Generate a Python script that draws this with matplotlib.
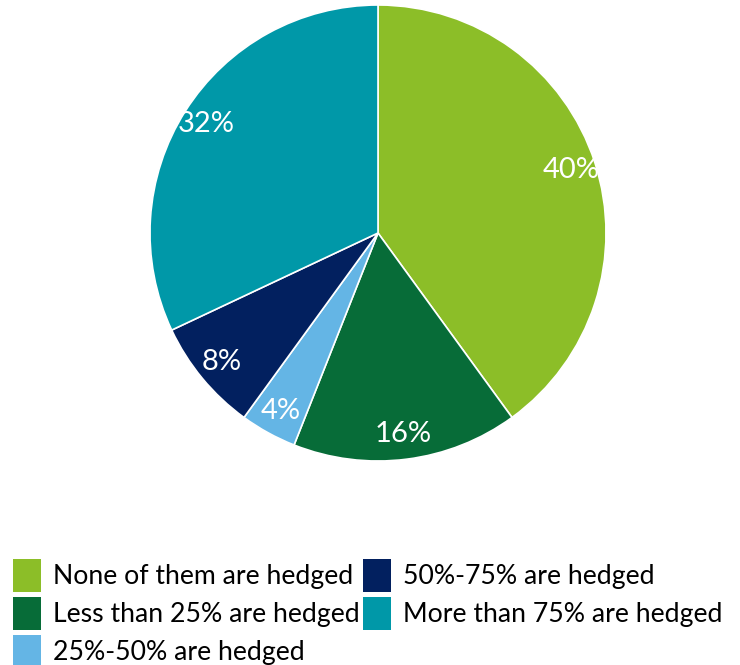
import matplotlib.pyplot as plt
from matplotlib.patches import Patch

plt.rcParams['font.family'] = ['Lato', 'DejaVu Sans']

categories = ["None of them are hedged", "Less than 25% are hedged", "25%-50% are hedged",
              "50%-75% are hedged", "More than 75% are hedged"]
shares = [40, 16, 4, 8, 32]
colours = ["#8CBE28", "#076C38", "#64B5E5", "#02205F", "#0098A8"]

fig = plt.figure(figsize=(7.4, 6.65), dpi=100)
# pie centred at (378, 233) px with a radius of 228 px
ax = fig.add_axes([150 / 740, 1 - 461 / 665, 456 / 740, 456 / 665])
wedges, texts, autotexts = ax.pie(shares, colors=colours, startangle=90, counterclock=False,
                                  radius=1, autopct='%d%%', pctdistance=0.89,
                                  wedgeprops=dict(linewidth=1.2, edgecolor='white'),
                                  textprops=dict(color='white', fontsize=21))
ax.set_xlim(-1, 1)
ax.set_ylim(-1, 1)
ax.set_aspect('equal')

handles = [Patch(facecolor=c, edgecolor='none') for c in colours]
leg = fig.legend(handles, categories, ncol=2, loc='upper left',
                 bbox_to_anchor=(8 / 740, 1 - 554 / 665), frameon=False,
                 fontsize=19.2, handlelength=1.05, handleheight=1.5,
                 handletextpad=0.45, columnspacing=0.1, labelspacing=0.2,
                 borderaxespad=0, borderpad=0.2)

fig.savefig("out.png", dpi=100)
